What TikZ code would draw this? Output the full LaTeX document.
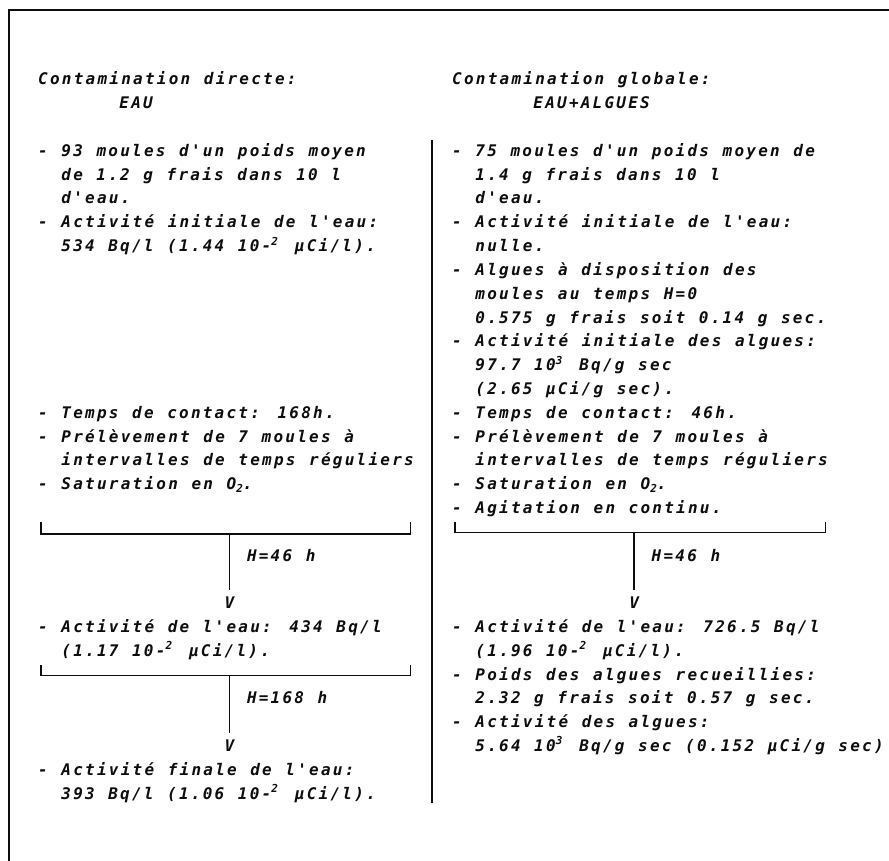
\documentclass[tikz,border=0pt]{standalone}
\usepackage{fontspec}
\usetikzlibrary{calc}
\newfontfamily\dotfam[LetterSpace=14]{DejaVu Sans Mono}
\newcommand{\dotfont}{\dotfam\bfseries\itshape\fontsize{16}{20}\selectfont\spaceskip=13.6pt\relax}
\newcommand{\indice}[1]{\raisebox{-0.35ex}{\fontsize{11}{11}\selectfont #1}}
\newcommand{\expo}[1]{\makebox[10pt][l]{\raisebox{0.75ex}{\fontsize{11}{11}\selectfont #1}}}
\definecolor{InkClr}{rgb}{0.05,0.05,0.05}

\begin{document}
\begin{tikzpicture}[x=1pt,y=-1pt,
  txt/.style={anchor=base west,inner sep=0pt,font=\dotfont,text=InkClr},
  arrowv/.style={anchor=base,inner sep=0pt,font=\dotfont,text=InkClr},
  rule/.style={line width=1.4pt,color=InkClr}]
\useasboundingbox (0,0) rectangle (889,861);

% cadre et separation
\draw[rule,line width=1.6pt] (9,861) -- (9,10) -- (889,10);
\coordinate (sepH) at (432,140);
\coordinate (sepB) at (432,803);
\draw[rule] (sepH) -- (sepB);

% colonne gauche : EAU
\begin{scope}[shift={(38,85)},x=11.6pt,y=-23.8pt]
\node[txt] (g0) at (0,0) {Contamination directe:};
\node[txt] (g1) at (7,1) {EAU};
\node[txt] (g3) at (0,3) {- 93 moules d'un poids moyen};
\node[txt] (g4) at (2,4) {de 1.2 g frais dans 10 l};
\node[txt] (g5) at (2,5) {d'eau.};
\node[txt] (g6) at (0,6) {- Activité initiale de l'eau:};
\node[txt] (g7) at (2,7) {534 Bq/l (1.44 10-\expo{2} µCi/l).};
\node[txt] (g14) at (0,14) {- Temps de contact: 168h.};
\node[txt] (g15) at (0,15) {- Prélèvement de 7 moules à};
\node[txt] (g16) at (2,16) {intervalles de temps réguliers};
\node[txt] (g17) at (0,17) {- Saturation en O\indice{2}.};

\coordinate (ga1) at (0.26,18.35);
\coordinate (gb1) at (0.26,18.87);
\coordinate (gc1) at (32.1,18.87);
\coordinate (gd1) at (32.1,18.35);
\coordinate (gm1) at (16.5,18.87);
\draw[rule] (ga1) -- (gb1) -- (gc1) -- (gd1);
\node[txt] (gh1) at (18,20) {H=46 h};
\node[arrowv] (gv1) at (16.5,22) {V};
\draw[rule] (gm1) -- ([yshift=7pt]gv1.north);

\node[txt] (g23) at (0,23) {- Activité de l'eau: 434 Bq/l};
\node[txt] (g24) at (2,24) {(1.17 10-\expo{2} µCi/l).};

\coordinate (ga2) at (0.26,24.37);
\coordinate (gb2) at (0.26,24.8);
\coordinate (gc2) at (32.1,24.8);
\coordinate (gd2) at (32.1,24.37);
\coordinate (gm2) at (16.5,24.8);
\draw[rule] (ga2) -- (gb2) -- (gc2) -- (gd2);
\node[txt] (gh2) at (18,26) {H=168 h};
\node[arrowv] (gv2) at (16.5,28) {V};
\draw[rule] (gm2) -- ([yshift=7pt]gv2.north);

\node[txt] (g29) at (0,29) {- Activité finale de l'eau:};
\node[txt] (g30) at (2,30) {393 Bq/l (1.06 10-\expo{2} µCi/l).};
\end{scope}

% colonne droite : EAU+ALGUES
\begin{scope}[shift={(452,85)},x=11.6pt,y=-23.8pt]
\node[txt] (d0) at (0,0) {Contamination globale:};
\node[txt] (d1) at (7,1) {EAU+ALGUES};
\node[txt] (d3) at (0,3) {- 75 moules d'un poids moyen de};
\node[txt] (d4) at (2,4) {1.4 g frais dans 10 l};
\node[txt] (d5) at (2,5) {d'eau.};
\node[txt] (d6) at (0,6) {- Activité initiale de l'eau:};
\node[txt] (d7) at (2,7) {nulle.};
\node[txt] (d8) at (0,8) {- Algues à disposition des};
\node[txt] (d9) at (2,9) {moules au temps H=0};
\node[txt] (d10) at (2,10) {0.575 g frais soit 0.14 g sec.};
\node[txt] (d11) at (0,11) {- Activité initiale des algues:};
\node[txt] (d12) at (2,12) {97.7 10\expo{3} Bq/g sec};
\node[txt] (d13) at (2,13) {(2.65 µCi/g sec).};
\node[txt] (d14) at (0,14) {- Temps de contact: 46h.};
\node[txt] (d15) at (0,15) {- Prélèvement de 7 moules à};
\node[txt] (d16) at (2,16) {intervalles de temps réguliers};
\node[txt] (d17) at (0,17) {- Saturation en O\indice{2}.};
\node[txt] (d18) at (0,18) {- Agitation en continu.};

\coordinate (da1) at (0.26,18.35);
\coordinate (db1) at (0.26,18.8);
\coordinate (dc1) at (32.2,18.8);
\coordinate (dd1) at (32.2,18.35);
\coordinate (dm1) at (15.7,18.8);
\draw[rule] (da1) -- (db1) -- (dc1) -- (dd1);
\node[txt] (dh1) at (17.2,20) {H=46 h};
\node[arrowv] (dv1) at (15.7,22) {V};
\draw[rule] (dm1) -- ([yshift=7pt]dv1.north);

\node[txt] (d23) at (0,23) {- Activité de l'eau: 726.5 Bq/l};
\node[txt] (d24) at (2,24) {(1.96 10-\expo{2} µCi/l).};
\node[txt] (d25) at (0,25) {- Poids des algues recueillies:};
\node[txt] (d26) at (2,26) {2.32 g frais soit 0.57 g sec.};
\node[txt] (d27) at (0,27) {- Activité des algues:};
\node[txt] (d28) at (2,28) {5.64 10\expo{3} Bq/g sec (0.152 µCi/g sec)};
\end{scope}
\end{tikzpicture}
\end{document}
